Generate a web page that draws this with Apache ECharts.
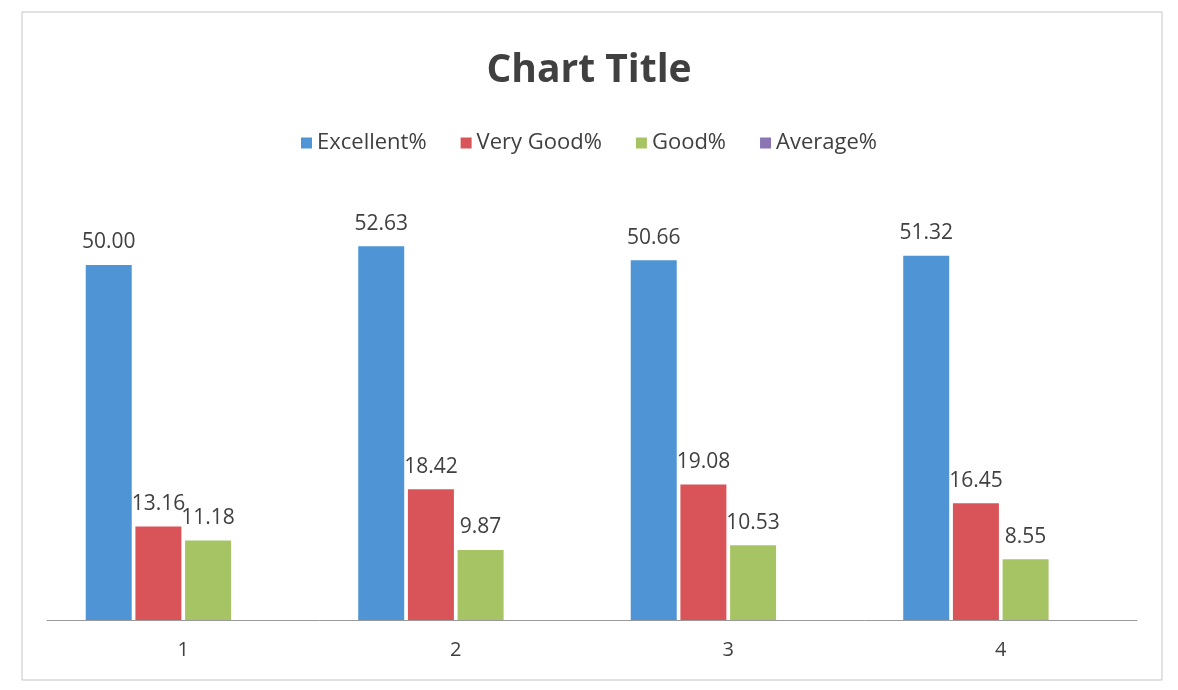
<!DOCTYPE html>
<html>
  <head>
    <meta charset="utf-8" />
    <title>Chart Title</title>
    <script src="https://cdn.jsdelivr.net/npm/echarts@6/dist/echarts.min.js"></script>
  </head>
  <body style="margin:0">
    <div id="main" style="width:1178px;height:690px;"></div>
    <script type="text/javascript">
      // values
      var categories = ['1', '2', '3', '4'];
      var excellent = [50.00, 52.63, 50.66, 51.32];
      var veryGood = [13.16, 18.42, 19.08, 16.45];
      var good = [11.18, 9.87, 10.53, 8.55];
      var average = [null, null, null, null];

      var names = ['Excellent%', 'Very Good%', 'Good%', 'Average%'];
      var colors = ['#4f94d4', '#d95459', '#a6c463', '#8a74b4'];
      var values = [excellent, veryGood, good, average];

      var myChart = echarts.init(document.getElementById('main'));
      var textColor = '#404040';
      var font = 'Open Sans, Liberation Sans, sans-serif';

      var seriesData = names.map(function (name, i) {
          return {
              name: name,
              type: 'bar',
              data: values[i],
              barWidth: 46,
              barGap: '8%',
              color: colors[i],
              label: {
                  show: true,
                  position: 'top',
                  distance: 12,
                  color: textColor,
                  fontSize: 21,
                  fontFamily: font,
                  formatter: function (p) {
                      return p.value == null ? '' : p.value.toFixed(2);
                  }
              }
          };
      });

      var option = {
          backgroundColor: '#fff',
          textStyle: {fontFamily: font},
          graphic: [{
              type: 'rect',
              shape: {x: 22, y: 12, width: 1140, height: 668},
              style: {fill: 'none', stroke: '#c4c4c4', lineWidth: 1},
              silent: true,
              z: -1
          }],
          title: {
              text: 'Chart Title',
              left: 'center',
              top: 46,
              textStyle: {fontSize: 39, fontWeight: 'bold', color: textColor, fontFamily: font}
          },
          legend: {
              top: 127,
              left: 'center',
              itemWidth: 11,
              itemHeight: 11,
              itemGap: 34,
              icon: 'rect',
              textStyle: {fontSize: 22, color: textColor, fontFamily: font},
              data: names
          },
          grid: {
              left: 47,
              right: 41,
              top: 194,
              bottom: 70
          },
          xAxis: {
              type: 'category',
              data: categories,
              axisLine: {lineStyle: {color: '#9a9a9a', width: 1}},
              axisTick: {show: false},
              axisLabel: {fontSize: 20, color: textColor, margin: 20}
          },
          yAxis: {
              type: 'value',
              min: 0,
              max: 60,
              show: false,
              splitLine: {show: false}
          },
          series: seriesData
      };

      myChart.setOption(option);
    </script>
  </body>
</html>
